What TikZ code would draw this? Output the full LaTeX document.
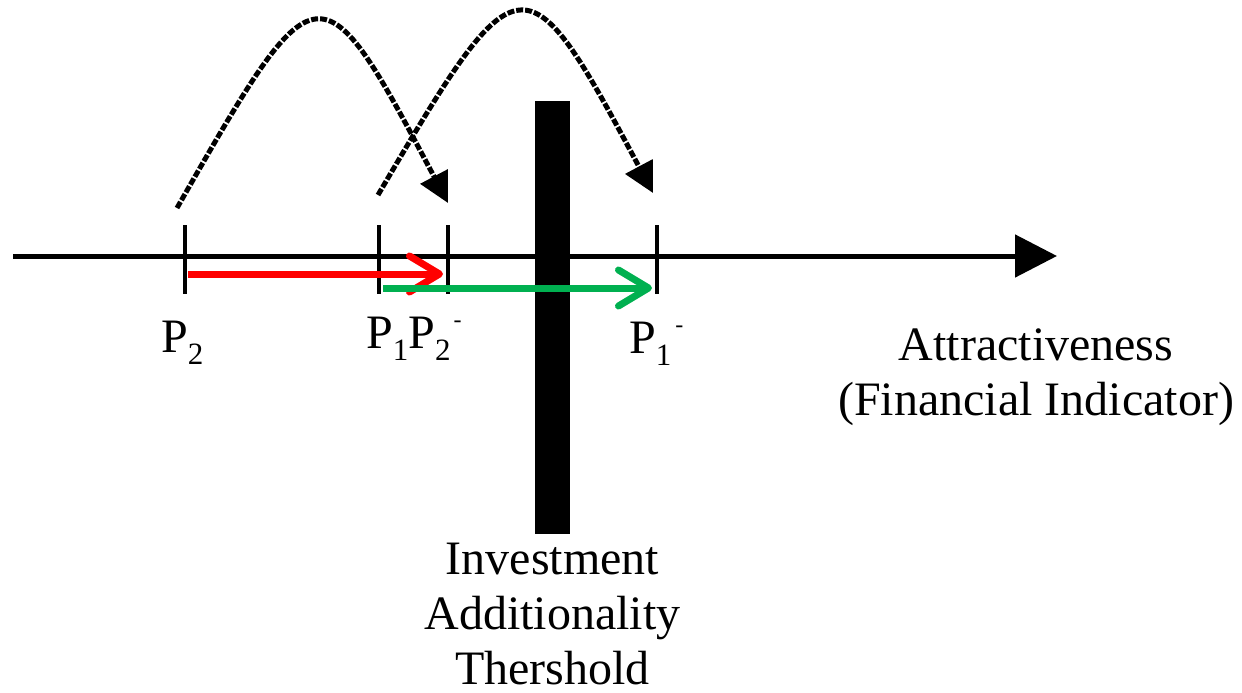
\documentclass[tikz,border=0pt]{standalone}
\usepackage{fontspec}
\setmainfont{Liberation Serif}
\usetikzlibrary{positioning, arrows.meta}
\definecolor{officegreen}{RGB}{0,176,80}
\newcommand{\lowsub}[1]{\raisebox{-12pt}{\fontsize{31}{31}\selectfont #1}}
\newcommand{\highsup}[1]{\raisebox{21pt}{\fontsize{24}{24}\selectfont #1}}

\begin{document}
\begin{tikzpicture}[x=1pt, y=-1pt,
        every node/.style={font=\fontsize{48}{55}\selectfont, inner sep=0pt},
        tick/.style={line width=4pt},
        axis/.style={line width=5pt, -{Triangle[length=42pt, width=42pt]}},
        shiftarrow/.style={line width=7pt, draw=#1, -{Straight Barb[length=30pt, width=36pt, round]}},
        jump/.style={line width=5pt, dash pattern=on 7pt off 2pt, -{Triangle[length=30pt, width=30pt]}}
    ]
    \useasboundingbox (0,0) rectangle (1242,693);
%
    % axis and ticks
    \coordinate (start) at (13,256);
    \coordinate (end) at (1057,256);
    \draw[axis] (start) -- (end);
    \coordinate (p2) at (185,256);
    \coordinate (p1) at (379,256);
    \coordinate (p2m) at (448,256);
    \coordinate (p1m) at (657,256);
    \foreach \t in {p2, p1, p2m, p1m}
        \draw[tick] (\t) ++(0,-31) -- ++(0,69);
%
    % threshold bar
    \node[fill=black, minimum width=35pt, minimum height=433pt] (bar) at (552.5,317.5) {};
    \node[below=9pt of bar, align=center] (thr) {Investment\\Additionality\\Thershold};
%
    \node[anchor=base west] (lp2) at (161,352) {P\lowsub{2}};
    \node[anchor=base west] (lp1) at (366,348) {P\lowsub{1}P\lowsub{2}\kern3pt\highsup{-}};
    \node[anchor=base west] (lp1m) at (629,353) {P\lowsub{1}\kern4pt\highsup{-}};
    \node[align=center, anchor=north] (attr) at (1036,329) {Attractiveness\\(Financial Indicator)};
%
    % shifts
    \coordinate (r0) at (188,274);
    \coordinate (r1) at (443,274);
    \coordinate (g0) at (383,288);
    \coordinate (g1) at (652,288);
    \draw[shiftarrow=red] (r0) -- (r1);
    \draw[shiftarrow=officegreen] (g0) -- (g1);
%
    % jumps
    \coordinate (a0) at (177,208);
    \coordinate (a1) at (448,203);
    \coordinate (b0) at (378,195);
    \coordinate (b1) at (653,193);
    \draw[jump] (a0) .. controls (318,-39) and (320,-39) .. (a1);
    \draw[jump] (b0) .. controls (520,-47) and (525,-47) .. (b1);
\end{tikzpicture}
\end{document}
